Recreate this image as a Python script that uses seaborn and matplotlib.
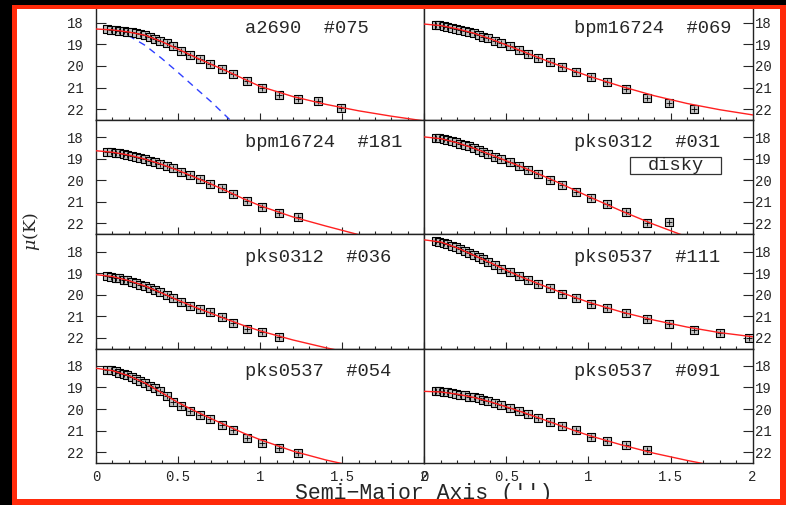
import matplotlib
matplotlib.use("Agg")
import matplotlib.pyplot as plt
from matplotlib.patches import Rectangle
from matplotlib.ticker import MultipleLocator, FuncFormatter
import pandas as pd
import seaborn as sns

# semi-major axis (arcsec) of the measured isophotes, shared by all galaxies
radius = [0.07, 0.09, 0.12, 0.14, 0.17, 0.19, 0.22, 0.245, 0.27, 0.30,
          0.33, 0.36, 0.39, 0.43, 0.47, 0.52, 0.575, 0.632, 0.693, 0.765,
          0.836, 0.922, 1.013, 1.115, 1.229, 1.354, 1.49, 1.64, 1.80, 1.98]

mu_a2690_075 = [18.31, 18.32, 18.35, 18.37, 18.40, 18.42, 18.45, 18.48, 18.53, 18.59,
                18.66, 18.75, 18.83, 18.96, 19.08, 19.29, 19.50, 19.70, 19.89, 20.13,
                20.38, 20.69, 21.01, 21.33, 21.52, 21.64, 21.96]
mu_bpm16724_069 = [18.11, 18.12, 18.16, 18.18, 18.23, 18.27, 18.32, 18.37, 18.42, 18.48,
                   18.55, 18.64, 18.72, 18.83, 18.95, 19.08, 19.25, 19.43, 19.61, 19.83,
                   20.04, 20.27, 20.52, 20.76, 21.07, 21.50, 21.73, 21.98]
mu_bpm16724_181 = [18.67, 18.69, 18.72, 18.74, 18.78, 18.82, 18.86, 18.91, 18.96, 19.02,
                   19.10, 19.17, 19.23, 19.35, 19.45, 19.60, 19.77, 19.95, 20.15, 20.38,
                   20.65, 20.96, 21.26, 21.52, 21.70]
mu_pks0312_031 = [18.03, 18.06, 18.10, 18.13, 18.19, 18.23, 18.30, 18.36, 18.43, 18.52,
                  18.60, 18.69, 18.78, 18.90, 19.03, 19.17, 19.33, 19.52, 19.70, 19.97,
                  20.22, 20.55, 20.80, 21.08, 21.49, 22.00, 21.95]
mu_pks0312_036 = [19.15, 19.18, 19.21, 19.25, 19.30, 19.34, 19.39, 19.46, 19.53, 19.61,
                  19.69, 19.79, 19.89, 20.01, 20.15, 20.34, 20.51, 20.65, 20.82, 21.05,
                  21.33, 21.59, 21.75, 21.94]
mu_pks0537_111 = [17.49, 17.54, 17.60, 17.66, 17.74, 17.81, 17.89, 17.98, 18.07, 18.17,
                  18.27, 18.37, 18.48, 18.61, 18.79, 18.95, 19.13, 19.33, 19.52, 19.69,
                  19.95, 20.15, 20.45, 20.62, 20.85, 21.11, 21.36, 21.63, 21.77, 22.02]
mu_pks0537_054 = [18.17, 18.20, 18.25, 18.31, 18.37, 18.43, 18.51, 18.60, 18.69, 18.80,
                  18.92, 19.04, 19.15, 19.39, 19.69, 19.85, 20.07, 20.27, 20.47, 20.74,
                  20.96, 21.33, 21.59, 21.79, 22.06]
mu_pks0537_091 = [19.15, 19.18, 19.21, 19.23, 19.27, 19.29, 19.34, 19.37, 19.42, 19.46,
                  19.51, 19.58, 19.64, 19.72, 19.81, 19.96, 20.10, 20.25, 20.42, 20.59,
                  20.79, 20.99, 21.30, 21.48, 21.68, 21.91]

model_radius = [0.0, 0.1, 0.2, 0.3, 0.4, 0.5, 0.6, 0.7, 0.8, 0.9, 1.0, 1.2, 1.4, 1.6, 1.8, 2.0]
model_a2690_075 = [18.29, 18.33, 18.43, 18.58, 18.87, 19.22, 19.58, 19.92, 20.25, 20.60,
                   20.95, 21.42, 21.78, 22.08, 22.33, 22.55]
model_bpm16724_069 = [18.06, 18.13, 18.28, 18.48, 18.74, 19.03, 19.33, 19.63, 19.92, 20.20,
                      20.47, 20.95, 21.38, 21.74, 22.03, 22.27]
model_bpm16724_181 = [18.63, 18.70, 18.83, 19.02, 19.26, 19.54, 19.85, 20.17, 20.51, 20.86,
                      21.18, 21.70, 22.12, 22.52, 22.90, 23.25]
model_pks0312_031 = [17.99, 18.07, 18.26, 18.51, 18.80, 19.10, 19.40, 19.72, 20.05, 20.40,
                     20.75, 21.42, 22.05, 22.62, 23.10, 23.50]
model_pks0312_036 = [19.07, 19.16, 19.35, 19.60, 19.92, 20.26, 20.57, 20.86, 21.15, 21.43,
                     21.68, 22.10, 22.46, 22.78, 23.05, 23.30]
model_pks0537_111 = [17.46, 17.56, 17.83, 18.17, 18.51, 18.87, 19.21, 19.51, 19.80, 20.08,
                     20.35, 20.80, 21.18, 21.50, 21.76, 21.95]
model_pks0537_054 = [18.11, 18.22, 18.46, 18.80, 19.24, 19.70, 20.08, 20.44, 20.78, 21.12,
                     21.42, 21.95, 22.36, 22.70, 23.00, 23.25]
model_pks0537_091 = [19.18, 19.21, 19.31, 19.46, 19.66, 19.90, 20.15, 20.42, 20.69, 20.96,
                     21.22, 21.66, 22.05, 22.38, 22.68, 22.95]

# inner component (blue dashed) for a2690 #075
bulge_radius = [0.05, 0.1, 0.15, 0.2, 0.3, 0.4, 0.5, 0.6, 0.7, 0.8, 0.85]
bulge_a2690_075 = [18.30, 18.35, 18.45, 18.60, 19.05, 19.65, 20.30, 20.98, 21.65, 22.38, 22.75]

panel_names = ["a2690  #075", "bpm16724  #069", "bpm16724  #181", "pks0312  #031",
               "pks0312  #036", "pks0537  #111", "pks0537  #054", "pks0537  #091"]
panel_mu = [mu_a2690_075, mu_bpm16724_069, mu_bpm16724_181, mu_pks0312_031,
            mu_pks0312_036, mu_pks0537_111, mu_pks0537_054, mu_pks0537_091]
panel_model = [model_a2690_075, model_bpm16724_069, model_bpm16724_181, model_pks0312_031,
               model_pks0312_036, model_pks0537_111, model_pks0537_054, model_pks0537_091]

sns.set_style("ticks")
plt.rcParams["font.family"] = ["Liberation Mono", "DejaVu Sans"]
plt.rcParams["mathtext.fontset"] = "dejavuserif"
plt.rcParams["axes.linewidth"] = 1.0
plt.rcParams["axes.edgecolor"] = "#222222"

fig, axes = plt.subplots(4, 2, figsize=(7.86, 5.05), dpi=100, sharex=True)
fig.subplots_adjust(left=0.1221, right=0.9576, bottom=0.0832, top=0.9891, hspace=0, wspace=0)
fig.patch.set_facecolor("white")

for i, ax in enumerate(axes.flat):
    col = i % 2
    mu = panel_mu[i]
    pts = pd.DataFrame({"r": radius[:len(mu)], "mu": mu})
    mdl = pd.DataFrame({"r": model_radius, "mu": panel_model[i]})

    sns.scatterplot(data=pts, x="r", y="mu", ax=ax, marker="s", s=26,
                    facecolor="#c2c2c2", edgecolor="black", linewidth=0.8, zorder=3)
    sns.scatterplot(data=pts, x="r", y="mu", ax=ax, marker="+", s=14,
                    color="black", linewidth=0.6, zorder=3)
    if i == 0:
        sns.lineplot(x=bulge_radius, y=bulge_a2690_075, ax=ax, color="#3040ff",
                     linewidth=1.0, linestyle=(0, (5, 4)), sort=False, estimator=None, zorder=2)
    sns.lineplot(data=mdl, x="r", y="mu", ax=ax, color="#ff2020", linewidth=1.0,
                 sort=False, estimator=None, zorder=4)

    ax.set_xlim(0, 2)
    ax.set_ylim(22.5, 17.2)
    ax.set_xlabel("")
    ax.set_ylabel("")
    ax.xaxis.set_major_locator(MultipleLocator(0.5))
    ax.xaxis.set_minor_locator(MultipleLocator(0.1))
    ax.xaxis.set_major_formatter(FuncFormatter(lambda v, p: f"{v:g}"))
    ax.set_yticks([18, 19, 20, 21, 22])
    ax.tick_params(axis="x", which="major", direction="in", length=5, width=0.8,
                   top=False, labelsize=10, pad=5)
    ax.tick_params(axis="x", which="minor", direction="in", length=2.5, width=0.8, top=False)
    if col == 0:
        ax.tick_params(axis="y", direction="in", length=7.5, width=0.8, left=True, right=False,
                       labelleft=True, labelright=False, labelsize=10, pad=9)
    else:
        ax.tick_params(axis="y", direction="in", length=7.5, width=0.8, left=False, right=True,
                       labelleft=False, labelright=True, labelsize=10, pad=1.5)
    ax.text(0.91, 18.48, panel_names[i], fontsize=13.5, ha="left", va="baseline")

# "disky" tag on pks0312 #031
axes[1, 1].add_patch(Rectangle((1.25, 18.91), 0.56, 0.80, facecolor="white",
                               edgecolor="#333333", linewidth=0.9, zorder=5))
axes[1, 1].text(1.53, 19.33, "disky", fontsize=13.5, ha="center", va="center", zorder=6)

fig.text(424 / 786, 1 - 483 / 505, "Semi\u2212Major Axis ('')", fontsize=15.5,
         ha="center", va="top")
fig.text(32 / 786, 1 - 232 / 505, r"$\mu$(K)", fontsize=12.5, family="DejaVu Serif",
         rotation=90, ha="center", va="center")

# black margin and red frame around the figure
W, H = 786, 505
for x0, y0, x1, y1, c in [(0, 0, 12, H, "black"), (0, 0, W, 5, "black"),
                          (12, 5, 17, H, "#ff2a0a"), (12, 5, W, 9, "#ff2a0a"),
                          (780, 5, W, H, "#ff2a0a"), (12, 499, W, H, "#ff2a0a")]:
    fig.add_artist(Rectangle((x0 / W, 1 - y1 / H), (x1 - x0) / W, (y1 - y0) / H,
                             transform=fig.transFigure, facecolor=c, edgecolor="none",
                             zorder=100))

fig.savefig("out.png", dpi=100)
